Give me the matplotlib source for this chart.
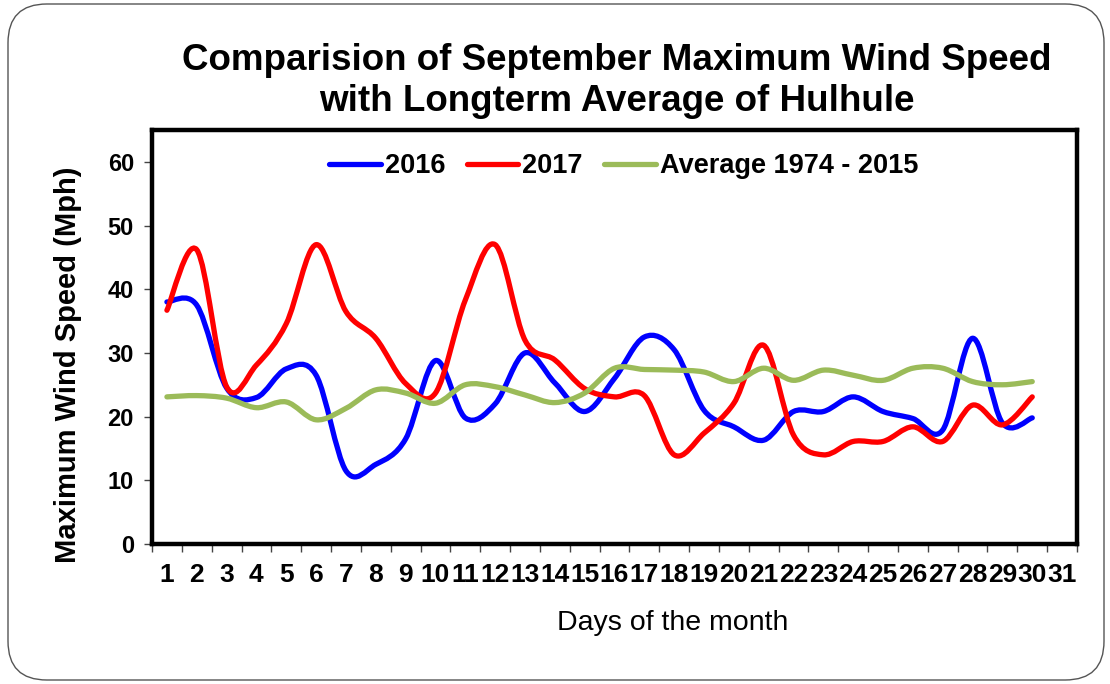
import matplotlib
matplotlib.use("Agg")
import matplotlib.pyplot as plt
import numpy as np
from matplotlib.path import Path
from matplotlib.patches import PathPatch, FancyBboxPatch
from matplotlib.lines import Line2D

plt.rcParams['font.family'] = ['Liberation Sans', 'DejaVu Sans']

days = list(range(1, 31))
day_labels = [str(d) for d in range(1, 32)]
wind_2016 = [38, 37.5, 24.5, 23, 27.5, 26.5, 11.5, 12.5, 16.5, 28.8, 19.8, 22, 30, 25.3, 20.8,
             26, 32.5, 30.5, 21, 18.4, 16.3, 20.8, 20.8, 23.1, 20.8, 19.7, 17.9, 32.3, 19, 19.8]
wind_2017 = [36.7, 46.2, 24.7, 28.1, 34.6, 47, 36.5, 32.3, 25.2, 23.7, 38.3, 47, 32, 28.9, 24.4,
             23.1, 23.3, 14, 17.4, 22.1, 31.2, 17.1, 14, 16.1, 16.1, 18.4, 16.1, 21.8, 18.7, 23.1]
wind_avg = [23.1, 23.3, 22.9, 21.4, 22.3, 19.5, 21.3, 24.2, 23.7, 22.1, 25, 24.7, 23.4, 22.2, 23.7,
            27.6, 27.4, 27.3, 27, 25.5, 27.6, 25.7, 27.3, 26.5, 25.7, 27.6, 27.6, 25.5, 25, 25.5]
series = [("2016", wind_2016, "#0000FF"),
          ("2017", wind_2017, "#FF0000"),
          ("Average 1974 - 2015", wind_avg, "#9BBB59")]


def smooth_path(x, y):
    p = np.column_stack([x, y]).astype(float)
    n = len(p)
    verts = [p[0]]
    codes = [Path.MOVETO]
    for i in range(n - 1):
        p0 = p[i - 1] if i > 0 else p[i]
        p1 = p[i]
        p2 = p[i + 1]
        p3 = p[i + 2] if i + 2 < n else p[i + 1]
        c1 = p1 + (p2 - p0) / 6.0
        c2 = p2 - (p3 - p1) / 6.0
        verts += [c1, c2, p2]
        codes += [Path.CURVE4] * 3
    return Path(verts, codes)


fig = plt.figure(figsize=(11.1, 6.84), dpi=100)
fig.patch.set_facecolor("white")

# outer rounded frame
frame = FancyBboxPatch((8 / 1110, 4 / 684), 1096 / 1110, 676 / 684,
                       boxstyle="round,pad=0,rounding_size=0.035",
                       transform=fig.transFigure, fill=False,
                       edgecolor="#555555", linewidth=1.0, mutation_aspect=1110 / 684)
fig.patches.append(frame)

ax = fig.add_axes([152 / 1110, 1 - 544 / 684, (1077 - 152) / 1110, (544 - 130) / 684])

handles = []
for name, vals, col in series:
    patch = PathPatch(smooth_path(days, vals), facecolor="none", edgecolor=col,
                      linewidth=3.8, capstyle="round", joinstyle="round", zorder=3)
    ax.add_patch(patch)
    handles.append(Line2D([], [], color=col, linewidth=3.8, solid_capstyle="round", label=name))

ax.set_xlim(0.5, 31.5)
ax.set_ylim(0, 65)
ax.set_yticks(range(0, 61, 10))
ax.set_xticks(range(1, 32))
ax.set_xticklabels(day_labels)
ax.set_xticks(np.arange(0.5, 32, 1), minor=True)
ax.tick_params(axis="x", which="major", length=0, pad=14, labelsize=19)
ax.tick_params(axis="x", which="minor", length=6, width=1, color="#444444", direction="out")
ax.tick_params(axis="y", which="major", length=6, width=1, color="#444444", direction="out",
               labelsize=17, pad=7)
for lab in ax.get_xticklabels() + ax.get_yticklabels():
    lab.set_fontweight("bold")

for sp in ax.spines.values():
    sp.set_linewidth(3.2)
    sp.set_color("black")

ax.set_ylabel("Maximum Wind Speed (Mph)", fontsize=21, fontweight="bold",
              va="center", ha="center")
ax.yaxis.set_label_coords(-0.091, 0.432)
fig.text(673 / 1110, 1 - 623 / 684, "Days of the month", fontsize=20.5,
         ha="center", va="center")

leg = ax.legend(handles=handles, loc="upper center", bbox_to_anchor=(0.51, 1.0), ncol=3,
                frameon=False, prop={"size": 19.5, "weight": "bold"}, handlelength=1.9,
                handletextpad=0.15, columnspacing=0.8, borderaxespad=0.45)

fig.text(617 / 1110, 1 - 81 / 684,
         "Comparision of September Maximum Wind Speed\nwith Longterm Average of Hulhule",
         ha="center", va="center", fontsize=26.5, fontweight="bold", linespacing=1.2)

fig.savefig("out.png", dpi=100)
